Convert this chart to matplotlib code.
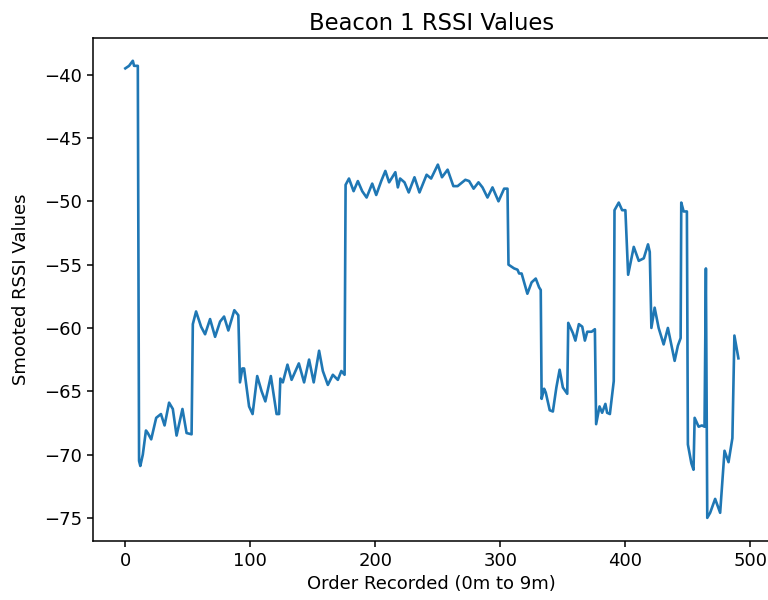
import matplotlib
matplotlib.use("Agg")
import matplotlib.pyplot as plt

# readings (order index, smoothed rssi)
order = [0, 3, 6, 7, 9, 10, 11, 12, 14, 16.5, 18, 20.7, 24.7, 28.5, 31.4, 35, 38, 41, 45.7, 49, 53,
         54, 56.6, 60.6, 63.8, 67.8, 71.8, 75.8, 79, 82.4, 87.2, 90.4,
         91.7, 93.6, 95, 99, 101.8, 105.5, 109, 112, 116.4, 121, 123, 124, 126, 129.7, 133, 138.8,
         143, 147, 150.7, 155, 158, 162, 166, 170, 172.8, 175.4,
         176.2, 178.9, 182.6, 186, 189.5, 193, 197.5, 200.7, 204.7, 208, 211, 216, 218, 219.8, 223.3,
         226.7, 231.3, 235.3, 241, 244.6, 250, 253.3, 257.8, 262.4, 265.8, 272, 275, 278.6, 282.5,
         285.7, 289.7, 293.7, 298.5, 303, 305.7,
         306.5, 311, 313.7, 315, 317, 321.6, 325, 328.3, 331, 332.3,
         333, 335, 336.3, 339.5, 342, 344.8, 347.4, 350, 353.5,
         354.3, 358, 360, 362.8, 365.5, 367.6, 369.5, 373, 375.6,
         376.6, 379.3, 381.4, 384, 385.4, 387.6, 390.7,
         391.3, 394.7, 397.4, 400, 402.2, 406.7, 410.7, 414.7, 418.1, 419.5,
         420.8, 423.4, 426.6, 430.6, 434, 436.7, 439.4, 442, 444.2,
         444.7, 446.6, 449.2, 450, 452.8, 454.5, 455.4, 458.6, 461.2, 463.3, 464.4,
         465.5, 467.8, 471.8, 475.8, 479.3, 482.5, 485.6, 487.2, 490.4]
rssi = [-39.5, -39.3, -38.9, -39.3, -39.3, -39.3, -70.5, -70.9, -70.0, -68.1, -68.3, -68.8, -67.1, -66.8,
        -67.7, -65.9, -66.4, -68.5, -66.4, -68.3, -68.4,
        -59.7, -58.7, -59.9, -60.5, -59.3, -60.7, -59.5, -59.1, -60.2, -58.6, -59.0,
        -64.3, -63.2, -63.2, -66.2, -66.8, -63.8, -65.0, -65.8, -63.8, -66.8, -66.8, -64.0, -64.3,
        -62.9, -64.1, -62.8, -64.3, -62.5, -64.3, -61.8, -63.4, -64.5, -63.7, -64.1, -63.4, -63.7,
        -48.7, -48.2, -49.2, -48.4, -49.2, -49.7, -48.6, -49.5, -48.4, -47.6, -48.5, -47.7, -48.9,
        -48.2, -48.5, -49.3, -48.1, -49.3, -47.9, -48.2, -47.1, -48.1, -47.5, -48.8, -48.8, -48.3,
        -48.4, -49.0, -48.5, -48.9, -49.7, -48.9, -50.0, -49.0, -49.0,
        -55.0, -55.3, -55.4, -55.7, -55.7, -57.3, -56.4, -56.1, -56.8, -57.0,
        -65.6, -64.8, -65.1, -66.5, -66.6, -64.7, -63.3, -64.7, -65.2,
        -59.6, -60.4, -61.0, -59.7, -59.9, -61.0, -60.3, -60.3, -60.1,
        -67.6, -66.2, -66.7, -66.0, -66.7, -66.8, -64.2,
        -50.7, -50.1, -50.7, -50.7, -55.8, -53.6, -54.7, -54.5, -53.4, -54.0,
        -60.0, -58.4, -60.0, -61.3, -60.0, -61.3, -62.6, -61.4, -60.8,
        -50.1, -50.8, -50.8, -69.2, -70.7, -71.2, -67.1, -67.8, -67.7, -67.8, -55.3,
        -75.0, -74.6, -73.5, -74.6, -69.7, -70.6, -68.7, -60.6, -62.4]

plt.rcParams['font.size'] = 13

fig = plt.figure(figsize=(7.68, 6), dpi=100)
# axes runs just past the right edge, like the cropped original
ax = fig.add_axes([0.1215, 0.0988, 0.88, 0.838])
ax.plot(order, rssi, color='#1f77b4', linewidth=1.9)
ax.set_xlim(-25.6, 515)
ax.set_xticks([0, 100, 200, 300, 400, 500])
ax.set_yticks([-75, -70, -65, -60, -55, -50, -45, -40])
ax.tick_params(length=4.5, width=1.1)
for s in ax.spines.values():
    s.set_linewidth(1.1)
ax.spines['right'].set_visible(False)
ax.set_title("Beacon 1 RSSI Values", fontsize=16.3, pad=6)
ax.set_xlabel("Order Recorded (0m to 9m)")
ax.set_ylabel("Smooted RSSI Values", labelpad=10)

plt.savefig("out.png", dpi=100)
